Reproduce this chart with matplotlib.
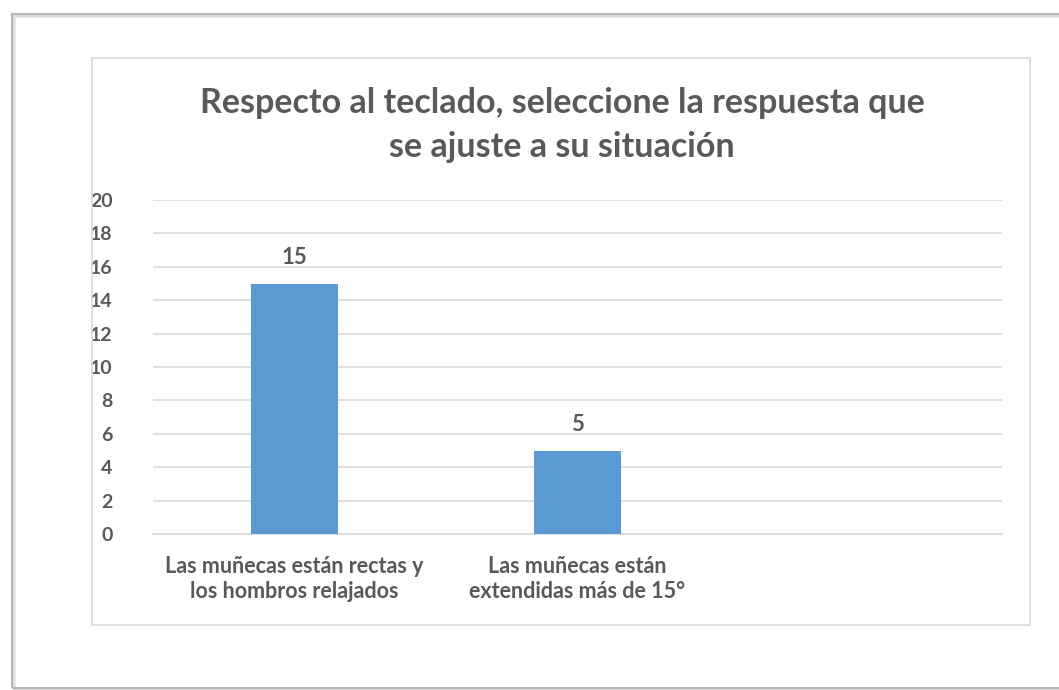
import matplotlib.pyplot as plt
from matplotlib.patches import Rectangle

# Data
categories = ["Las muñecas están rectas y\nlos hombros relajados",
              "Las muñecas están\nextendidas más de 15°",
              ""]
values = [15, 5, None]
title = "Respecto al teclado, seleccione la respuesta que\nse ajuste a su situación"
yticks = [0, 2, 4, 6, 8, 10, 12, 14, 16, 18, 20]

TEXT = "#595959"
BAR = "#5B9BD5"
GRID = "#D9D9D9"
FONT = ["Lato", "DejaVu Sans"]

W, H = 1059, 690
fig = plt.figure(figsize=(W / 100, H / 100), dpi=100)
fig.patch.set_facecolor("white")

# document page edge (left / top / bottom) with a soft shadow
for off, col in [(3, "#eeeeee"), (2, "#dddddd"), (0, "#b8b8b8")]:
    fig.add_artist(Rectangle(((12 + off) / W, (H - 688 - off) / H), (W + 40) / W, (688 - 14) / H,
                             transform=fig.transFigure, fill=False, edgecolor=col, linewidth=1.5))

# chart area frame
fig.add_artist(Rectangle((92 / W, (H - 625) / H), (1030 - 92) / W, (625 - 58) / H,
                         transform=fig.transFigure, fill=False, edgecolor=GRID, linewidth=1.2))

ax = fig.add_axes([153 / W, 1 - 534 / H, (1002 - 153) / W, (534 - 200) / H])
x = list(range(len(categories)))
heights = [v if v is not None else 0 for v in values]
bars = ax.bar(x, heights, width=0.31, color=BAR, zorder=3)
for xi, v in zip(x, values):
    if v is not None:
        ax.text(xi, v + 0.95, str(v), ha="center", va="bottom", fontsize=16,
                fontweight="bold", color=TEXT, family=FONT)

ax.set_xlim(-0.5, 2.5)
ax.set_ylim(0, 20)
ax.set_yticks(yticks)
ax.set_yticklabels([str(t) for t in yticks], fontsize=14, fontweight="bold", color=TEXT, family=FONT)
ax.set_xticks(x)
ax.set_xticklabels(categories, fontsize=15.5, fontweight="bold", color=TEXT, family=FONT,
                   linespacing=1.2)
ax.tick_params(axis="both", length=0)
ax.tick_params(axis="y", pad=29)
ax.tick_params(axis="x", pad=16)
ax.grid(axis="y", color=GRID, linewidth=1.2, zorder=0)
for s in ["top", "right", "left"]:
    ax.spines[s].set_visible(False)
ax.spines["bottom"].set_color(GRID)
ax.spines["bottom"].set_linewidth(1.2)

fig.text(562 / W, 1 - 125 / H, title, ha="center", va="center", fontsize=24.5,
         fontweight="bold", color=TEXT, family=FONT, linespacing=1.45)

fig.savefig("out.png", dpi=100)
